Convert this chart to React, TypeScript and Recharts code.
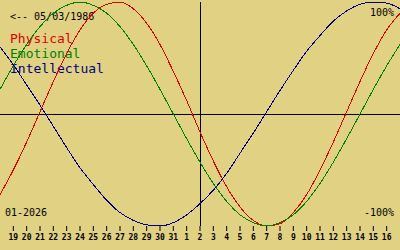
import React from "react";
import { LineChart, Line, XAxis, YAxis, ReferenceLine } from "recharts";

const dayLabels = ["18","19","20","21","22","23","24","25","26","27","28","29","30","31","1","2","3","4","5","6","7","8","9","10","11","12","13","14","15","16","17"];
const physical = [-72,-50,-25,2,29,54,75,90,98,100,94,81,62,38,12,-16,-42,-65,-83,-95,-100,-98,-88,-72,-50,-25,2,29,54,75,90];
const emotional = [22,43,62,78,90,97,100,97,90,78,62,43,22,0,-22,-43,-62,-78,-90,-97,-100,-97,-90,-78,-62,-43,-22,0,22,43,62];
const intellectual = [60,44,26,8,-11,-30,-48,-63,-77,-88,-95,-99,-100,-97,-90,-80,-68,-53,-35,-17,2,21,39,56,70,83,92,98,100,99,94];
const tickIdx = [0,1,2,3,4,5,6,7,8,9,10,11,12,13,14,15,16,17,18,19,20,21,22,23,24,25,26,27,28];
const todayIdx = 14;
const birthText = "<-- 05/03/1986";
const monthText = "01-2026";

const data = dayLabels.map((d, k) => ({
  i: k - 1,
  day: d,
  physical: physical[k],
  emotional: emotional[k],
  intellectual: intellectual[k],
}));

const BG = "#e0d282";
const RED = "#e00000";
const GREEN = "#008000";
const BLUE = "#000080";
const MONO = "'DejaVu Sans Mono', monospace";

export default function App() {
  return (
    <div style={{ position: "absolute", left: 0, top: 0, width: 400, height: 250, background: BG, overflow: "hidden" }}>
      <svg width={400} height={250} style={{ position: "absolute", left: 0, top: 0 }}>
        <text x={10} y={20} fontFamily={MONO} fontSize={10} fill="#000">{birthText}</text>
        <text x={10} y={43} fontFamily={MONO} fontSize={13} fill={RED}>Physical</text>
        <text x={10} y={58} fontFamily={MONO} fontSize={13} fill={GREEN}>Emotional</text>
        <text x={10} y={73} fontFamily={MONO} fontSize={13} fill={BLUE}>Intellectual</text>
        <text x={394} y={16} textAnchor="end" fontFamily={MONO} fontSize={10} fill="#000">100%</text>
        <text x={394} y={216} textAnchor="end" fontFamily={MONO} fontSize={10} fill="#000">-100%</text>
        <text x={5} y={216} fontFamily={MONO} fontSize={10} fill="#000">{monthText}</text>
      </svg>
      <div style={{ position: "absolute", left: 0, top: 0 }}>
        <LineChart width={400} height={250} data={data} margin={{ top: 2, right: 0, bottom: 0, left: 0 }}>
          <XAxis
            dataKey="i"
            type="number"
            domain={[-1, 29]}
            ticks={tickIdx}
            interval={0}
            tickFormatter={(v: number) => dayLabels[v + 1]}
            axisLine={false}
            tickLine={{ stroke: "#000", strokeWidth: 1 }}
            tickSize={5}
            tickMargin={3}
            height={24}
            tick={{ fill: "#000", fontSize: 8, fontFamily: MONO, fontWeight: "bold" }}
          />
          <YAxis hide domain={[-100, 100]} type="number" />
          <ReferenceLine y={0} stroke="#000" strokeWidth={1} shapeRendering="crispEdges" />
          <ReferenceLine x={todayIdx} stroke="#000" strokeWidth={1} shapeRendering="crispEdges" />
          <Line dataKey="physical" type="monotone" stroke={RED} strokeWidth={1} dot={false} isAnimationActive={false} shapeRendering="crispEdges" />
          <Line dataKey="emotional" type="monotone" stroke={GREEN} strokeWidth={1} dot={false} isAnimationActive={false} shapeRendering="crispEdges" />
          <Line dataKey="intellectual" type="monotone" stroke={BLUE} strokeWidth={1} dot={false} isAnimationActive={false} shapeRendering="crispEdges" />
        </LineChart>
      </div>
    </div>
  );
}
